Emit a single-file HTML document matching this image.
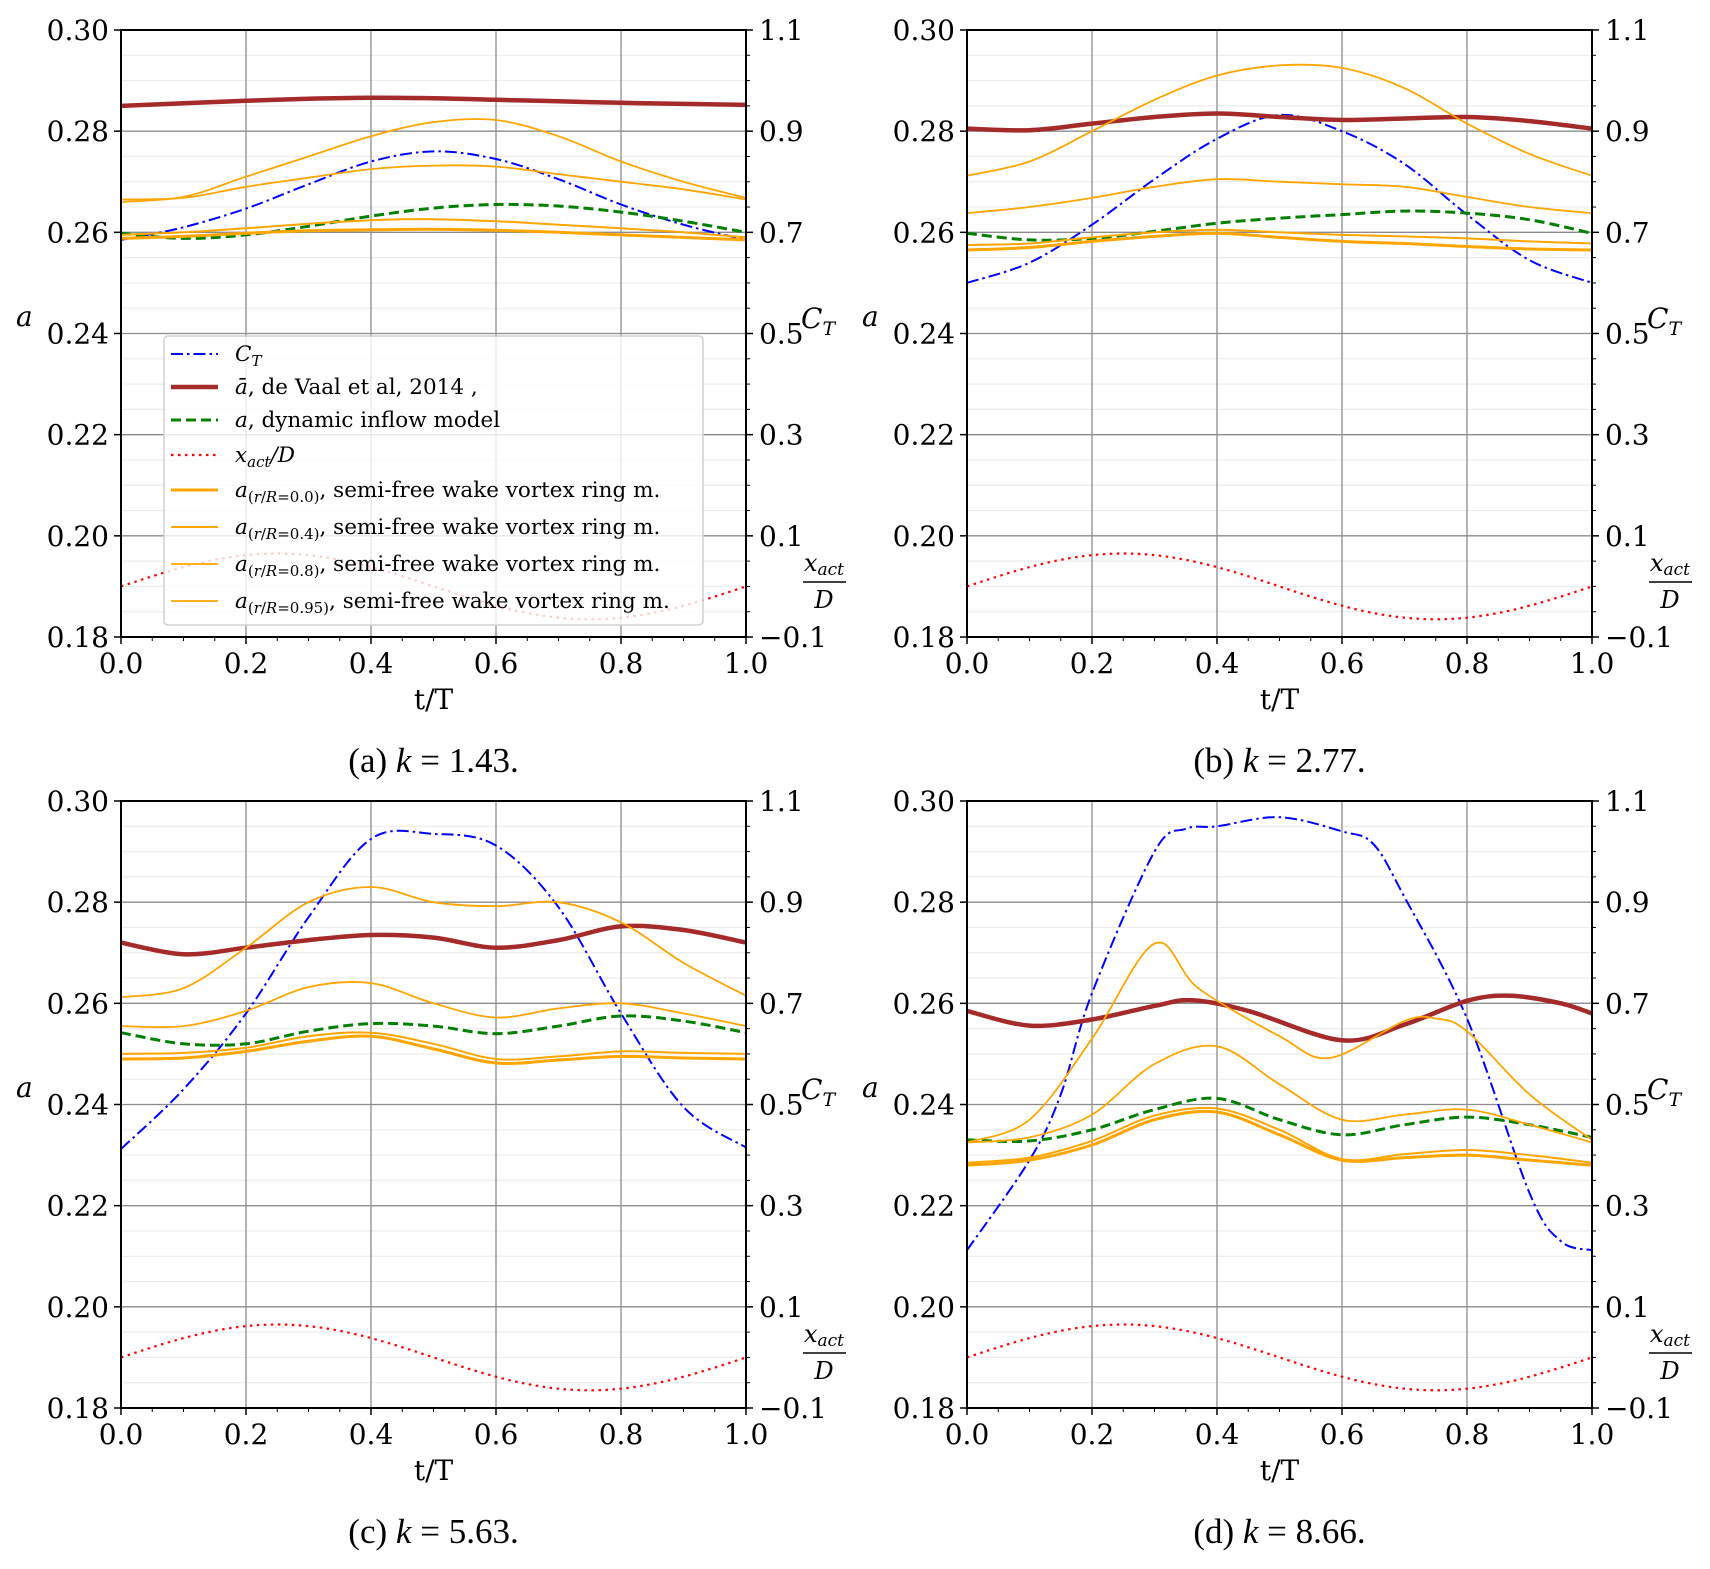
<!DOCTYPE html>
<html><head><meta charset="utf-8">
<style>
html,body{margin:0;padding:0;background:#fff;}
svg{display:block;}
text{font-family:"DejaVu Serif","Liberation Serif",serif;fill:#000;}
.cap{font-family:"Liberation Serif","DejaVu Serif",serif;font-size:35px;}
</style></head>
<body>
<svg id="s" width="1710" height="1569" xmlns="http://www.w3.org/2000/svg"></svg>
<script>
const NS="http://www.w3.org/2000/svg";
const S=document.getElementById('s');
function el(tag,attrs,txt,parent){const e=document.createElementNS(NS,tag);for(const k in attrs)e.setAttribute(k,attrs[k]);if(txt!==undefined&&txt!==null)e.innerHTML=txt;(parent||S).appendChild(e);return e;}
const W=625,H=607;
function ev(arr){if(typeof arr[0]==='number'){return arr.map((v,i)=>[i/(arr.length-1),v]);}return arr;}
function pathOf(pts,X,Y){
  const P=pts.map(p=>[X(p[0]),Y(p[1])]);
  let d=`M${P[0][0].toFixed(1)},${P[0][1].toFixed(1)}`;
  for(let i=0;i<P.length-1;i++){
    const p0=P[Math.max(0,i-1)],p1=P[i],p2=P[i+1],p3=P[Math.min(P.length-1,i+2)];
    const c1=[p1[0]+(p2[0]-p0[0])/6,p1[1]+(p2[1]-p0[1])/6];
    const c2=[p2[0]-(p3[0]-p1[0])/6,p2[1]-(p3[1]-p1[1])/6];
    d+=`C${c1[0].toFixed(1)},${c1[1].toFixed(1)} ${c2[0].toFixed(1)},${c2[1].toFixed(1)} ${p2[0].toFixed(1)},${p2[1].toFixed(1)}`;
  }
  return d;
}
const red=[];for(let i=0;i<=40;i++){const t=i/40;red.push([t,0.19+0.0065*Math.sin(2*Math.PI*t)]);}
const panels=[
 {x0:121,y0:30,cap:'(a) <tspan font-style="italic">k</tspan> = 1.43.',legend:true,
  brown:[0.285,0.2855,0.286,0.2864,0.2866,0.2865,0.2862,0.2859,0.2856,0.2854,0.2852],
  blue:[0.2585,0.261,0.2647,0.2695,0.274,0.276,0.2745,0.2705,0.2655,0.2615,0.2585],
  green:[0.2598,0.2588,0.2595,0.2612,0.2632,0.2648,0.2655,0.2652,0.2640,0.2622,0.2600],
  o0:[0.2588,0.2592,0.2598,0.2603,0.2605,0.2606,0.2604,0.2600,0.2595,0.2590,0.2585],
  o4:[0.2595,0.2600,0.2608,0.2617,0.2624,0.2626,0.2622,0.2615,0.2608,0.2600,0.2590],
  o8:[0.2665,0.2668,0.2690,0.2708,0.2725,0.2732,0.2730,0.2715,0.2700,0.2685,0.2665],
  o95:[0.2660,0.2670,0.2710,0.2750,0.2790,0.2818,0.2822,0.2790,0.2740,0.2700,0.2668]},
 {x0:967,y0:30,cap:'(b) <tspan font-style="italic">k</tspan> = 2.77.',
  brown:[0.2805,0.2802,0.2815,0.2828,0.2835,0.2828,0.2822,0.2825,0.2828,0.2820,0.2805],
  blue:[0.250,0.254,0.2615,0.2705,0.2785,0.2832,0.280,0.2735,0.2635,0.2545,0.2500],
  green:[0.2598,0.2585,0.2588,0.2602,0.2618,0.2628,0.2635,0.2642,0.2638,0.2625,0.2598],
  o0:[0.2565,0.2570,0.2582,0.2592,0.2598,0.2590,0.2582,0.2578,0.2572,0.2567,0.2565],
  o4:[0.2575,0.2578,0.2590,0.2600,0.2605,0.2600,0.2595,0.2592,0.2588,0.2582,0.2578],
  o8:[0.2638,0.2650,0.2668,0.2690,0.2705,0.2700,0.2695,0.2690,0.2670,0.2650,0.2638],
  o95:[0.2712,0.2740,0.2800,0.2862,0.2910,0.2930,0.2925,0.2885,0.2815,0.2755,0.2712]},
 {x0:121,y0:801,cap:'(c) <tspan font-style="italic">k</tspan> = 5.63.',
  brown:[0.2720,0.2697,0.2710,0.2725,0.2735,0.2730,0.2710,0.2725,0.2752,0.2745,0.2720],
  blue:[0.2312,0.2430,0.258,0.277,0.2925,0.2935,0.2912,0.279,0.258,0.2395,0.2315],
  green:[0.2542,0.2520,0.2520,0.2545,0.2560,0.2555,0.2540,0.2555,0.2575,0.2565,0.2542],
  o0:[0.2490,0.2492,0.2505,0.2525,0.2535,0.2510,0.2482,0.2488,0.2495,0.2492,0.2490],
  o4:[0.2500,0.2502,0.2512,0.2535,0.2542,0.2520,0.2490,0.2495,0.2505,0.2502,0.2500],
  o8:[0.2555,0.2555,0.2585,0.2632,0.2640,0.2600,0.2572,0.2590,0.2600,0.2580,0.2555],
  o95:[0.2612,0.2630,0.2710,0.2800,0.2830,0.2800,0.2792,0.2800,0.2760,0.2680,0.2615]},
 {x0:967,y0:801,cap:'(d) <tspan font-style="italic">k</tspan> = 8.66.',
  brown:[[0,0.2585],[0.1,0.2556],[0.2,0.2568],[0.3,0.2595],[0.36,0.2606],[0.45,0.2585],[0.6,0.2527],[0.7,0.2558],[0.8,0.2605],[0.87,0.2615],[0.95,0.2600],[1,0.2580]],
  blue:[[0,0.2112],[0.1,0.2290],[0.15,0.2420],[0.2,0.2620],[0.3,0.2900],[0.35,0.2945],[0.4,0.2950],[0.5,0.2968],[0.6,0.2940],[0.65,0.2915],[0.7,0.2810],[0.8,0.2570],[0.9,0.2225],[0.95,0.2130],[1,0.2112]],
  green:[0.2330,0.2328,0.2350,0.2390,0.2412,0.2370,0.2340,0.2360,0.2375,0.2360,0.2335],
  o0:[0.2280,0.2290,0.2320,0.2370,0.2385,0.2340,0.2290,0.2295,0.2300,0.2290,0.2280],
  o4:[0.2285,0.2295,0.2328,0.2378,0.2392,0.2350,0.2292,0.2302,0.2310,0.2300,0.2285],
  o8:[0.2325,0.2335,0.2380,0.2480,0.2515,0.2440,0.2370,0.2380,0.2390,0.2360,0.2325],
  o95:[[0,0.2325],[0.1,0.2370],[0.2,0.2530],[0.3,0.2718],[0.37,0.2630],[0.5,0.2535],[0.58,0.2492],[0.7,0.2565],[0.75,0.2570],[0.8,0.2545],[0.9,0.2420],[1,0.2330]]}
];
panels.forEach(p=>{
  const X=t=>p.x0+W*t, Y=a=>p.y0+H-(a-0.18)/0.12*H;
  const g=el('g',{});
  for(let a=0.185;a<0.3;a+=0.005){if(Math.abs((a-0.18)/0.02-Math.round((a-0.18)/0.02))<0.01)continue;el('line',{x1:p.x0,x2:p.x0+W,y1:Y(a),y2:Y(a),stroke:'#ececec','stroke-width':1.2},null,g);}
  for(let i=1;i<6;i++){const a=0.18+0.02*i;el('line',{x1:p.x0,x2:p.x0+W,y1:Y(a),y2:Y(a),stroke:'#8c8c8c','stroke-width':1.3},null,g);}
  for(let i=1;i<5;i++){el('line',{x1:X(i*0.2),x2:X(i*0.2),y1:p.y0,y2:p.y0+H,stroke:'#8c8c8c','stroke-width':1.3},null,g);}
  const draw=(d,attrs)=>el('path',Object.assign({d:pathOf(ev(d),X,Y),fill:'none','stroke-linejoin':'round'},attrs),null,g);
  draw(p.blue,{stroke:'#0000ff','stroke-width':2,'stroke-dasharray':'12,4,2.5,4'});
  draw(p.brown,{stroke:'#a52a2a','stroke-width':4.5});
  draw(p.green,{stroke:'#008000','stroke-width':3,'stroke-dasharray':'10,5'});
  draw(red,{stroke:'#ff0000','stroke-width':2.2,'stroke-dasharray':'2.5,4.5'});
  draw(p.o0,{stroke:'#ffa500','stroke-width':3});
  draw(p.o4,{stroke:'#ffa500','stroke-width':2});
  draw(p.o8,{stroke:'#ffa500','stroke-width':1.8});
  draw(p.o95,{stroke:'#ffa500','stroke-width':1.8});
  el('rect',{x:p.x0,y:p.y0,width:W,height:H,fill:'none',stroke:'#000','stroke-width':2},null,g);
  for(let i=0;i<=6;i++){const a=0.18+0.02*i;el('line',{x1:p.x0-7,x2:p.x0,y1:Y(a),y2:Y(a),stroke:'#000','stroke-width':1.5},null,g);
    el('text',{x:p.x0-12,y:Y(a)+10,'font-size':28,'text-anchor':'end'},a.toFixed(2),g);}
  for(let i=0;i<=24;i++){const y=p.y0+H-i*H/24;const maj=i%4===0;
    el('line',{x1:p.x0+W,x2:p.x0+W+(maj?7:4),y1:y,y2:y,stroke:'#000','stroke-width':maj?1.5:1},null,g);
    if(maj){const v=-0.1+i/24*1.2;el('text',{x:p.x0+W+13,y:y+10,'font-size':28},(v<0?'\u22120.1':v.toFixed(1)),g);}}
  for(let i=0;i<=20;i++){const x=X(i/20);const maj=i%4===0;
    el('line',{x1:x,x2:x,y1:p.y0+H,y2:p.y0+H+(maj?7:4),stroke:'#000','stroke-width':maj?1.5:1},null,g);
    if(maj)el('text',{x:x,y:p.y0+H+36,'font-size':28,'text-anchor':'middle'},(i/20).toFixed(1),g);}
  el('text',{x:X(0.5),y:p.y0+H+72,'font-size':28,'text-anchor':'middle'},'t/T',g);
  el('text',{x:p.x0-105,y:p.y0+296,'font-size':28,'font-style':'italic'},'a',g);
  el('text',{x:p.x0+W+55,y:p.y0+298,'font-size':28,'font-style':'italic'},'C<tspan font-size="19" dy="7">T</tspan>',g);
  el('text',{x:p.x0+W+78,y:p.y0+541,'font-size':24,'font-style':'italic','text-anchor':'middle'},'x<tspan font-size="17" dy="4">act</tspan>',g);
  el('line',{x1:p.x0+W+57,x2:p.x0+W+100,y1:p.y0+552,y2:p.y0+552,stroke:'#000','stroke-width':1.5},null,g);
  el('text',{x:p.x0+W+78,y:p.y0+578,'font-size':24,'font-style':'italic','text-anchor':'middle'},'D',g);
  el('text',{x:X(0.5),y:p.y0+H+135,'class':'cap','text-anchor':'middle'},p.cap,g);
  if(p.legend){
    el('rect',{x:164,y:336,width:539,height:289,rx:4,fill:'rgba(255,255,255,0.8)',stroke:'#d0d0d0','stroke-width':1.5},null,g);
    const ys=[354,387,420,455,490,527,564,601];
    const st=[{stroke:'#0000ff','stroke-width':2,'stroke-dasharray':'12,4,2.5,4'},{stroke:'#a52a2a','stroke-width':4.5},{stroke:'#008000','stroke-width':3,'stroke-dasharray':'10,5'},{stroke:'#ff0000','stroke-width':2.2,'stroke-dasharray':'2.5,4.5'},{stroke:'#ffa500','stroke-width':3},{stroke:'#ffa500','stroke-width':2},{stroke:'#ffa500','stroke-width':1.8},{stroke:'#ffa500','stroke-width':1.8}];
    const sub=s=>`<tspan font-style="italic">a</tspan><tspan font-size="15" dy="5">(<tspan font-style="italic">r</tspan>/<tspan font-style="italic">R</tspan>=${s})</tspan><tspan dy="-5">, semi-free wake vortex ring m.</tspan>`;
    const tx=['<tspan font-style="italic">C</tspan><tspan font-size="15" dy="5" font-style="italic">T</tspan>',
      '<tspan font-style="italic">ā</tspan>, de Vaal et al, 2014 ,',
      '<tspan font-style="italic">a</tspan>, dynamic inflow model',
      '<tspan font-style="italic">x</tspan><tspan font-size="15" dy="5" font-style="italic">act</tspan><tspan dy="-5" font-style="italic">/D</tspan>',
      sub('0.0'),sub('0.4'),sub('0.8'),sub('0.95')];
    ys.forEach((y,i)=>{el('line',Object.assign({x1:171,x2:218,y1:y,y2:y},st[i]),null,g);
      el('text',{x:235,y:y+7,'font-size':21.5},tx[i],g);});
  }
});
</script>
</body></html>
